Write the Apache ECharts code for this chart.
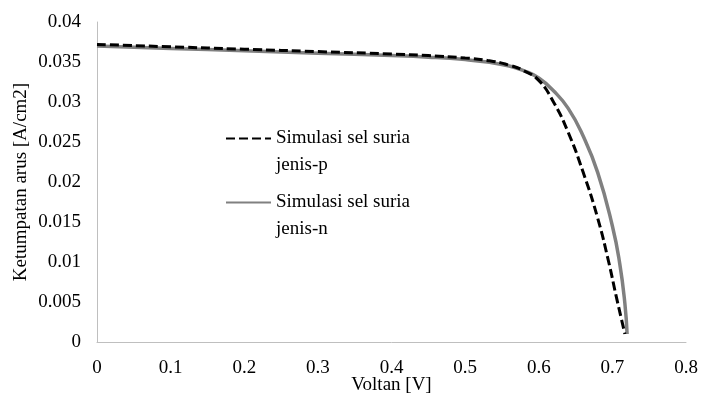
<!DOCTYPE html>
<html>
<head>
<meta charset="utf-8">
<script src="https://cdn.jsdelivr.net/npm/echarts@6/dist/echarts.min.js"></script>
<style>
  html, body { margin: 0; padding: 0; background: #fff; }
  #main { width: 702px; height: 397px; }
</style>
</head>
<body>
<div id="main"></div>
<script>
// voltage points (V) and current density (A/cm2)
var voltP = [0, 0.1, 0.2, 0.3, 0.4, 0.45, 0.5, 0.53, 0.56, 0.58, 0.6, 0.62, 0.64, 0.66, 0.68, 0.695, 0.705, 0.717];
var jP    = [0.0372, 0.0369, 0.0366, 0.0363, 0.0360, 0.0358, 0.0355, 0.0352, 0.0346, 0.0339, 0.0327, 0.0300, 0.0262, 0.0213, 0.0155, 0.0100, 0.0058, 0.0010];

var voltN = [0, 0.1, 0.2, 0.3, 0.4, 0.45, 0.5, 0.53, 0.56, 0.58, 0.6, 0.62, 0.64, 0.66, 0.68, 0.70, 0.71, 0.717, 0.72];
var jN    = [0.0370, 0.0367, 0.0364, 0.0361, 0.0358, 0.0356, 0.0353, 0.0350, 0.0345, 0.0339, 0.0330, 0.0314, 0.0292, 0.0258, 0.0212, 0.0145, 0.0098, 0.0048, 0.0010];

var nameP = 'Simulasi sel suria\njenis-p';
var nameN = 'Simulasi sel suria\njenis-n';

function pairs(xs, ys) {
    var out = [];
    for (var i = 0; i < xs.length; i++) out.push([xs[i], ys[i]]);
    return out;
}

var myChart = echarts.init(document.getElementById('main'));
var font = 'Liberation Serif';
var fs = 19;

// blank first line so the icon sits beside the first text line
var legendBase = {
    left: 225,
    padding: 0,
    itemWidth: 45, itemHeight: 2,
    itemStyle: { opacity: 0 },
    formatter: function (n) { return '\n' + n; },
    textStyle: { fontFamily: font, fontSize: fs, color: '#000', lineHeight: 27 }
};

option = {
    backgroundColor: '#fff',
    animation: false,
    grid: { left: 97, right: 16, top: 22, bottom: 55, containLabel: false, outerBoundsMode: 'none' },
    legend: [
        Object.assign({}, legendBase, { top: 98, data: [nameP] }),
        Object.assign({}, legendBase, { top: 162, data: [nameN] })
    ],
    xAxis: {
        type: 'value',
        min: 0, max: 0.8, interval: 0.1,
        name: 'Voltan [V]',
        nameLocation: 'middle',
        nameGap: 34,
        nameMoveOverlap: false,
        nameTextStyle: { fontFamily: font, fontSize: fs, color: '#000' },
        axisLine: { lineStyle: { color: '#bfbfbf', width: 1 } },
        axisTick: { show: false },
        splitLine: { show: false },
        axisLabel: { fontFamily: font, fontSize: fs, color: '#000', margin: 17 }
    },
    yAxis: {
        type: 'value',
        min: 0, max: 0.04, interval: 0.005,
        name: 'Ketumpatan arus [A/cm2]',
        nameLocation: 'middle',
        nameGap: 66,
        nameMoveOverlap: false,
        nameTextStyle: { fontFamily: font, fontSize: fs, color: '#000' },
        axisLine: { show: true, lineStyle: { color: '#bfbfbf', width: 1 } },
        axisTick: { show: false },
        splitLine: { show: false },
        axisLabel: { fontFamily: font, fontSize: fs, color: '#000', margin: 16 }
    },
    series: [{
        name: nameP,
        type: 'line',
        smooth: true,
        symbol: 'none',
        z: 3,
        lineStyle: { color: '#000', width: 3, type: [9, 4] },
        itemStyle: { color: '#000' },
        data: pairs(voltP, jP)
    }, {
        name: nameN,
        type: 'line',
        smooth: true,
        symbol: 'none',
        z: 2,
        lineStyle: { color: '#808080', width: 3.5 },
        itemStyle: { color: '#808080' },
        data: pairs(voltN, jN)
    }]
};

if (option && typeof option === "object") {
    myChart.setOption(option, true);
}
</script>
</body>
</html>
